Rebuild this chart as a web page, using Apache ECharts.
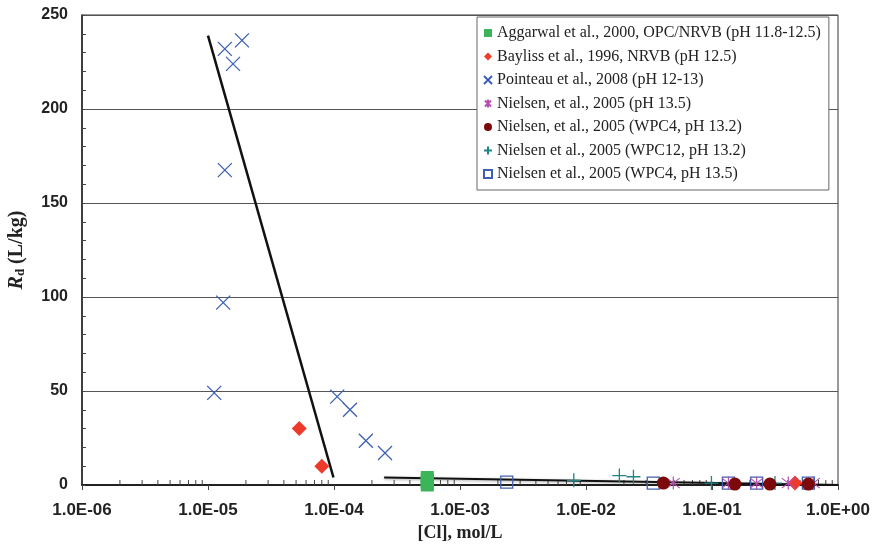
<!DOCTYPE html>
<html>
<head>
<meta charset="utf-8">
<script src="https://cdn.jsdelivr.net/npm/echarts@6/dist/echarts.min.js"></script>
<style>
  html, body { margin: 0; padding: 0; background: #fff; }
  #chart { width: 876px; height: 552px; }
</style>
</head>
<body>
<div id="chart"></div>
<script>
// data: [Cl] in mol/L, Rd in L/kg
var aggarwal = [[5.5e-4, 0], [5.5e-4, 1], [5.5e-4, 2], [5.5e-4, 3], [5.5e-4, 4]];
var bayliss = [[5.3e-5, 30], [8.0e-5, 10], [0.455, 1]];
var pointeau = [[1.12e-5, 49], [1.32e-5, 97], [1.36e-5, 167.5], [1.36e-5, 232], [1.58e-5, 224], [1.86e-5, 236.5],
  [1.06e-4, 47], [1.34e-4, 40], [1.79e-4, 23.5], [2.54e-4, 17]];
var nielsenStar = [[0.0493, 1], [0.135, 1], [0.226, 1], [0.403, 1], [0.637, 1]];
var nielsenCircle = [[0.0411, 1], [0.152, 0.5], [0.288, 0.5], [0.582, 0.5]];
var nielsenPlus = [[8.0e-3, 2.5], [0.0184, 5], [0.0238, 4.4], [0.099, 1], [0.316, 1]];
var nielsenSquare = [[2.35e-3, 1.5], [0.0342, 1], [0.135, 1], [0.226, 1], [0.582, 1]];
var fitLow = [[1.0e-5, 239], [9.9e-5, 4]];
var fitHigh = [[2.5e-4, 4], [1.0, 0]];

var names = [
  'Aggarwal et al., 2000, OPC/NRVB (pH 11.8-12.5)',
  'Bayliss et al., 1996, NRVB (pH 12.5)',
  'Pointeau et al., 2008 (pH 12-13)',
  'Nielsen, et al., 2005 (pH 13.5)',
  'Nielsen, et al., 2005 (WPC4, pH 13.2)',
  'Nielsen et al., 2005 (WPC12, pH 13.2)',
  'Nielsen et al., 2005 (WPC4, pH 13.5)'
];

// minor ticks of the log axis (2..9 in each decade)
var minorTicks = [];
for (var e = -6; e < 0; e++) {
  for (var k = 2; k <= 9; k++) minorTicks.push([k * Math.pow(10, e), 0]);
}

var xPath = 'path://M0,0L10,10M10,0L0,10';
var starPath = 'path://M0,0L10,10M10,0L0,10M5,-1.5L5,11.5';
var plusPath = 'path://M5,0L5,10M0,5L10,5';

function expLabel(v) {
  var p = Math.round(Math.log10(v));
  if (p < 0) return '1.0E-' + (Math.abs(p) < 10 ? '0' : '') + Math.abs(p);
  return '1.0E+' + (p < 10 ? '0' : '') + p;
}

var chart = echarts.init(document.getElementById('chart'));
var option = {
  animation: false,
  grid: {
    left: 82, right: 38, top: 15, bottom: 67,
    outerBoundsMode: 'none', containLabel: false,
    show: true, borderColor: '#333', borderWidth: 1
  },
  legend: {
    data: names,
    orient: 'vertical',
    left: 477, top: 17,
    padding: [7, 8, 7, 6],
    itemWidth: 8, itemHeight: 8, itemGap: 5.5,
    backgroundColor: '#fff',
    borderColor: '#666', borderWidth: 1,
    textStyle: { fontFamily: 'Liberation Serif', fontSize: 16, color: '#222', lineHeight: 18 }
  },
  xAxis: {
    type: 'log', logBase: 10, min: 1e-6, max: 1,
    name: '[Cl], mol/L', nameLocation: 'middle', nameGap: 37,
    nameTextStyle: { fontFamily: 'Liberation Serif', fontWeight: 'bold', fontSize: 18, color: '#222' },
    axisLine: { lineStyle: { color: '#222', width: 2 } },
    axisTick: { show: true, length: 5, lineStyle: { color: '#444' } },
    splitLine: { show: false },
    axisLabel: {
      formatter: expLabel, margin: 17,
      fontFamily: 'Liberation Sans', fontWeight: 'bold', fontSize: 17, color: '#222'
    }
  },
  yAxis: {
    type: 'value', min: 0, max: 250, interval: 50,
    name: '{r|R}{d|d}{t| (L/kg)}', nameLocation: 'middle', nameGap: 55,
    nameTextStyle: {
      rich: {
        r: { fontFamily: 'Liberation Serif', fontStyle: 'italic', fontWeight: 'bold', fontSize: 20, color: '#222' },
        d: { fontFamily: 'Liberation Serif', fontWeight: 'bold', fontSize: 13, color: '#222', padding: [8, 0, 0, 0] },
        t: { fontFamily: 'Liberation Serif', fontWeight: 'bold', fontSize: 20, color: '#222' }
      }
    },
    axisLine: { show: true, lineStyle: { color: '#222', width: 1.5 } },
    axisTick: { show: true, inside: true, length: 3, lineStyle: { color: '#444' } },
    minorTick: { show: true, splitNumber: 5, length: 4, lineStyle: { color: '#444' } },
    splitLine: { show: true, lineStyle: { color: '#555', width: 1 } },
    axisLabel: {
      margin: 14,
      fontFamily: 'Liberation Sans', fontWeight: 'bold', fontSize: 16, color: '#222'
    }
  },
  series: [
    {
      type: 'custom', silent: true, data: minorTicks, z: 1,
      renderItem: function (params, api) {
        var p = api.coord([api.value(0), 0]);
        return { type: 'line', shape: { x1: p[0], y1: p[1], x2: p[0], y2: p[1] - 5 },
          style: { stroke: '#444', lineWidth: 1 } };
      }
    },
    {
      type: 'line', data: fitLow, symbol: 'none', silent: true, z: 3,
      lineStyle: { color: '#111', width: 2.5 }
    },
    {
      type: 'line', data: fitHigh, symbol: 'none', silent: true, z: 3,
      lineStyle: { color: '#111', width: 2, shadowColor: 'rgba(0,0,0,0.35)', shadowBlur: 3, shadowOffsetY: 1 }
    },
    {
      name: names[0], type: 'scatter', data: aggarwal, symbol: 'rect', symbolSize: 13, z: 4,
      itemStyle: { color: '#3cb45a', opacity: 1 }
    },
    {
      name: names[1], type: 'scatter', data: bayliss, symbol: 'diamond', symbolSize: 15, z: 4,
      itemStyle: { color: '#ee3a2a', opacity: 1 }
    },
    {
      name: names[2], type: 'scatter', data: pointeau, symbol: xPath, symbolSize: 14, z: 4,
      itemStyle: { color: 'transparent', borderColor: '#3d5fb5', borderWidth: 1.3, opacity: 1 }
    },
    {
      name: names[3], type: 'scatter', data: nielsenStar, symbol: starPath, symbolSize: 13, z: 5,
      itemStyle: { color: 'transparent', borderColor: '#b54fb5', borderWidth: 1.2, opacity: 1 }
    },
    {
      name: names[4], type: 'scatter', data: nielsenCircle, symbol: 'circle', symbolSize: 13, z: 6,
      itemStyle: { color: '#7d0a0a', opacity: 1 }
    },
    {
      name: names[5], type: 'scatter', data: nielsenPlus, symbol: plusPath, symbolSize: 14, z: 4,
      itemStyle: { color: 'transparent', borderColor: '#1f8585', borderWidth: 1.3, opacity: 1 }
    },
    {
      name: names[6], type: 'scatter', data: nielsenSquare, symbol: 'rect', symbolSize: 12, z: 4,
      itemStyle: { color: 'transparent', borderColor: '#4060b0', borderWidth: 1.3, opacity: 1 }
    }
  ]
};
chart.setOption(option);
</script>
</body>
</html>
